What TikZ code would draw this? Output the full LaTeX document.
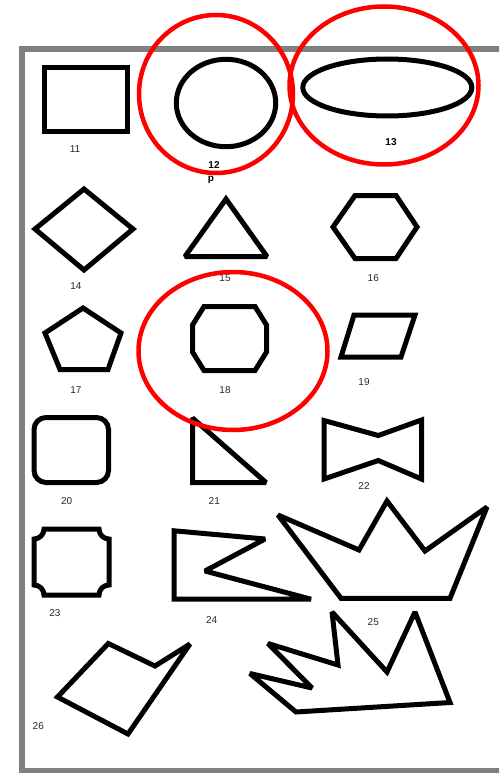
\documentclass[tikz,border=0pt]{standalone}
\usepackage{fontspec}
\setmainfont{Liberation Sans}
\definecolor{framegray}{RGB}{128,128,128}
\definecolor{labelgray}{RGB}{40,40,40}
\begin{document}
\begin{tikzpicture}[x=1pt,y=-1pt,
  shp/.style={draw=black,line width=5pt,line join=miter,miter limit=2},
  hl/.style={draw=red,line width=4.5pt},
  lbl/.style={font=\fontsize{10}{12}\selectfont,text=labelgray,inner sep=1pt},
  blbl/.style={font=\fontsize{10}{12}\selectfont\bfseries,text=black,inner sep=1pt}]
\useasboundingbox (0,0) rectangle (499,773);
\clip (0,0) rectangle (499,773);
% frame
\draw[framegray,line width=5.5pt] (22,49) rectangle (530,771);
% 11
\draw[shp] (44,68) rectangle (127,131.5);
% 12
\draw[shp] (226,103) ellipse [x radius=49.7, y radius=43.7];
% 13
\draw[shp] (387.3,87.5) ellipse [x radius=84.5, y radius=28.5];
% 14 diamond
\draw[shp] (35,229) -- (84,189) -- (133,229) -- (84,270) -- cycle;
% 15 triangle
\draw[shp] (226,199) -- (267,256.5) -- (185,256.5) -- cycle;
% 16 hexagon
\draw[shp] (333,227) -- (355,195.5) -- (396,195.5) -- (417,227) -- (396,258.5) -- (355,258.5) -- cycle;
% 17 pentagon
\draw[shp] (83,308) -- (121,333) -- (108,369.5) -- (60,369.5) -- (45,333) -- cycle;
% 18 octagon
\draw[shp] (204,306.5) -- (255,306.5) -- (266.5,325) -- (266.5,352) -- (255,370.5) -- (204,370.5) -- (192.5,352) -- (192.5,325) -- cycle;
% 19 parallelogram
\draw[shp] (354,315) -- (415,315) -- (401,357) -- (341,357) -- cycle;
% 20 rounded square
\draw[shp,rounded corners=12] (34,417.5) rectangle (108.5,482.5);
% 21 right triangle
\draw[shp] (192.5,418) -- (192.5,482.5) -- (266,482.5) -- cycle;
% 22 bowtie
\draw[shp] (324,420.5) -- (378.3,435.5) -- (421.5,420) -- (421.5,479) -- (378.3,460.5) -- (324,479) -- cycle;
% 23 concave corners
\draw[shp] (44,529) -- (99,529) arc[start angle=180,end angle=90,radius=10] -- (109,585) arc[start angle=270,end angle=180,radius=10] -- (44,595) arc[start angle=0,end angle=-90,radius=10] -- (34,539) arc[start angle=90,end angle=0,radius=10] -- cycle;
% 24
\draw[shp] (174.2,530.8) -- (265,539) -- (205,571) -- (311,599.2) -- (174.2,599.2) -- cycle;
% 25 crown
\draw[shp] (278,515) -- (359,550) -- (387,501) -- (425,551) -- (487,507) -- (450,598.3) -- (341,598.3) -- cycle;
% 26
\draw[shp] (108.3,643.5) -- (155,666) -- (190,644) -- (128,734) -- (57.5,697) -- cycle;
% 27 spiky
\draw[shp] (250,673.5) -- (312,688) -- (268,643.5) -- (338,665) -- (332,612) -- (387,672) -- (415,612) -- (450,702.5) -- (296,712) -- cycle;
% labels
\node[lbl] (l11) at (75,149) {11};
\node[blbl] (l12) at (214,165) {12};
\node[blbl] (lp) at (211,179.5) {p};
\node[blbl] (l13) at (391,141.7) {13};
\node[lbl] (l14) at (76,286.5) {14};
\node[lbl] (l15) at (225,278.5) {15};
\node[lbl] (l16) at (373.3,278.3) {16};
\node[lbl] (l17) at (76,390) {17};
\node[lbl] (l18) at (225,390) {18};
\node[lbl] (l19) at (364,381.7) {19};
\node[lbl] (l20) at (66.7,500.7) {20};
\node[lbl] (l21) at (214.3,500.7) {21};
\node[lbl] (l22) at (364,485.7) {22};
\node[lbl] (l23) at (55,613) {23};
\node[lbl] (l24) at (211.7,620) {24};
\node[lbl] (l25) at (373.3,621.7) {25};
\node[lbl,fill=white,inner xsep=8pt,minimum height=25pt] (l26) at (38.3,725.7) {26};
% red highlights
\draw[hl] (216,94) ellipse [x radius=77, y radius=79];
\draw[hl] (384,85.5) ellipse [x radius=94.5, y radius=79];
\draw[hl] (233,351) ellipse [x radius=94.5, y radius=79];
\end{tikzpicture}
\end{document}
